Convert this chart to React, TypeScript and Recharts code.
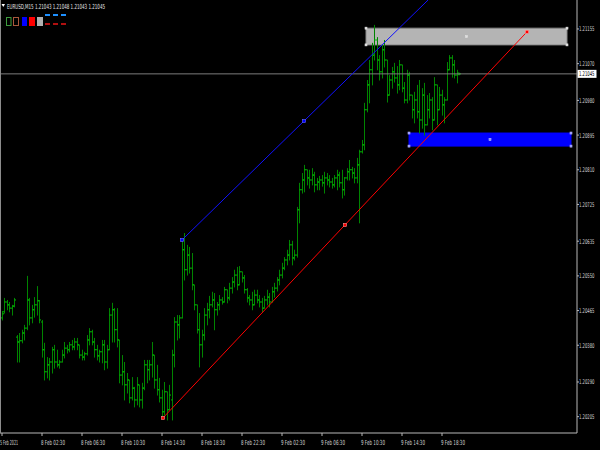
import React from 'react';
import {
  ComposedChart,
  Bar,
  XAxis,
  YAxis,
  ReferenceLine,
  ReferenceArea,
  ReferenceDot,
} from 'recharts';

// EURUSD M15 bars, oldest first
const highs = [
  1.20464, 1.20496, 1.20491, 1.20486, 1.20479, 1.20496, 1.20405, 1.2041, 1.20418, 1.2043,
  1.2055, 1.20496, 1.20479, 1.20498, 1.20525, 1.20491, 1.20442, 1.20386, 1.20351, 1.20349,
  1.20376, 1.20381, 1.20369, 1.20344, 1.20369, 1.20388, 1.20381, 1.20388, 1.20393, 1.20398,
  1.20398, 1.20381, 1.20369, 1.20364, 1.20405, 1.20422, 1.20418, 1.20398, 1.20381, 1.20369,
  1.20393, 1.20393, 1.20381, 1.20471, 1.20484, 1.20471, 1.20471, 1.20393, 1.20356, 1.20339,
  1.20312, 1.20295, 1.20302, 1.20278, 1.20302, 1.20283, 1.20288, 1.20344, 1.20344, 1.20344,
  1.20388, 1.20356, 1.20332, 1.203, 1.20271, 1.2029, 1.20266, 1.20283, 1.20369, 1.20449,
  1.20454, 1.20454, 1.20638, 1.20655, 1.20626, 1.20621, 1.20606, 1.20528, 1.20479, 1.20459,
  1.20418, 1.20471, 1.20484, 1.20501, 1.20511, 1.20508, 1.20486, 1.20503, 1.20498, 1.20523,
  1.20516, 1.20533, 1.20547, 1.20565, 1.20572, 1.20574, 1.2056, 1.20552, 1.2052, 1.20503,
  1.20511, 1.20516, 1.20516, 1.20503, 1.20496, 1.20501, 1.20516, 1.20508, 1.20523, 1.20533,
  1.20547, 1.20565, 1.20582, 1.20596, 1.20614, 1.20638, 1.20636, 1.20614, 1.20719, 1.20778,
  1.20802, 1.20822, 1.2081, 1.2081, 1.20814, 1.20805, 1.2079, 1.20795, 1.20797, 1.20805,
  1.20802, 1.20797, 1.2079, 1.20797, 1.2081, 1.20805, 1.2081, 1.20792, 1.20814, 1.20834,
  1.20817, 1.20814, 1.20839, 1.20859, 1.20883, 1.20974, 1.2103, 1.21079, 1.21121, 1.21165,
  1.21135, 1.21091, 1.21116, 1.21128, 1.21079, 1.21042, 1.21062, 1.21072, 1.21064, 1.21079,
  1.21067, 1.21025, 1.21055, 1.2105, 1.20993, 1.21001, 1.21018, 1.2103, 1.2101, 1.21023,
  1.20993, 1.20998, 1.20988, 1.21037, 1.21018, 1.21013, 1.21006, 1.20988, 1.21074, 1.21091,
  1.21091, 1.21079, 1.21055, 1.21048,
];

const lows = [
  1.20442, 1.20459, 1.20467, 1.20462, 1.20454, 1.20474, 1.20339, 1.20339, 1.20386, 1.20393,
  1.20418, 1.2043, 1.20435, 1.20449, 1.20454, 1.20435, 1.20351, 1.20295, 1.203, 1.20295,
  1.20312, 1.20324, 1.20327, 1.20324, 1.20339, 1.20349, 1.20361, 1.20364, 1.20369, 1.20369,
  1.20369, 1.20349, 1.20344, 1.20344, 1.20356, 1.20381, 1.20381, 1.20351, 1.20344, 1.20339,
  1.20337, 1.2032, 1.20324, 1.20369, 1.20388, 1.20388, 1.20376, 1.20288, 1.20283, 1.20246,
  1.20263, 1.20239, 1.20246, 1.20229, 1.20234, 1.20229, 1.20226, 1.20271, 1.20288, 1.20295,
  1.20302, 1.20275, 1.20258, 1.20241, 1.20202, 1.20209, 1.20197, 1.20222, 1.20197, 1.20327,
  1.20393, 1.20398, 1.20447, 1.2054, 1.20552, 1.20557, 1.20516, 1.20467, 1.2041, 1.20327,
  1.20351, 1.20393, 1.2043, 1.20447, 1.20474, 1.20418, 1.20454, 1.20467, 1.20481, 1.20486,
  1.20484, 1.20491, 1.20508, 1.20523, 1.20516, 1.20528, 1.20535, 1.20508, 1.20486, 1.20479,
  1.20467, 1.20479, 1.20484, 1.20474, 1.20462, 1.20471, 1.20479, 1.20474, 1.20486, 1.20498,
  1.20513, 1.20528, 1.20545, 1.20565, 1.20577, 1.20589, 1.20577, 1.20589, 1.20596, 1.2068,
  1.20753, 1.20756, 1.20773, 1.20765, 1.20773, 1.20756, 1.20761, 1.20761, 1.2077, 1.20753,
  1.20773, 1.20768, 1.20765, 1.20768, 1.20761, 1.20768, 1.20741, 1.20748, 1.20785, 1.20785,
  1.2079, 1.20778, 1.20778, 1.2068, 1.20851, 1.20859, 1.20952, 1.20974, 1.21018, 1.21079,
  1.21055, 1.2103, 1.21035, 1.21062, 1.20976, 1.20993, 1.2101, 1.21025, 1.20998, 1.21006,
  1.21001, 1.20974, 1.20974, 1.20981, 1.20937, 1.20925, 1.20937, 1.209, 1.20912, 1.20895,
  1.2092, 1.20937, 1.20908, 1.20932, 1.2092, 1.20957, 1.20944, 1.20925, 1.20981, 1.21055,
  1.21037, 1.21035, 1.21023, 1.21043,
];

const opens = [
  1.20447, 1.20462, 1.20486, 1.20479, 1.20471, 1.20476, 1.204, 1.20388, 1.20391, 1.2041,
  1.20422, 1.20491, 1.20447, 1.20467, 1.20479, 1.20489, 1.20437, 1.20369, 1.20315, 1.20332,
  1.20339, 1.20369, 1.20339, 1.20332, 1.20339, 1.20356, 1.20373, 1.20369, 1.20381, 1.20376,
  1.20388, 1.20381, 1.20356, 1.20351, 1.20359, 1.20393, 1.20413, 1.20388, 1.20369, 1.20354,
  1.20364, 1.20381, 1.20339, 1.20369, 1.20454, 1.20467, 1.20418, 1.20393, 1.20307, 1.20315,
  1.20283, 1.20295, 1.20251, 1.20275, 1.20246, 1.20283, 1.20246, 1.20275, 1.20332, 1.2032,
  1.20332, 1.20356, 1.20295, 1.20271, 1.20251, 1.20217, 1.20266, 1.20222, 1.20246, 1.20356,
  1.20437, 1.2043, 1.20447, 1.20614, 1.20565, 1.20601, 1.20569, 1.20528, 1.20479, 1.20418,
  1.20381, 1.20405, 1.20454, 1.20467, 1.20479, 1.20491, 1.20467, 1.20479, 1.20491, 1.20486,
  1.20516, 1.20496, 1.2052, 1.20535, 1.20552, 1.20528, 1.2056, 1.20545, 1.20516, 1.20496,
  1.20491, 1.20479, 1.20503, 1.20491, 1.20486, 1.20471, 1.20491, 1.20498, 1.20486, 1.20511,
  1.2052, 1.2054, 1.20552, 1.20569, 1.20589, 1.20601, 1.20626, 1.20594, 1.20601, 1.20712,
  1.20761, 1.20785, 1.2081, 1.2079, 1.20785, 1.20797, 1.20773, 1.2078, 1.20785, 1.20778,
  1.2079, 1.20785, 1.2078, 1.20773, 1.2079, 1.20797, 1.20778, 1.20761, 1.2079, 1.20805,
  1.2081, 1.20802, 1.2079, 1.20822, 1.20854, 1.20871, 1.20957, 1.21018, 1.21055, 1.21091,
  1.21128, 1.21079, 1.2105, 1.21104, 1.21079, 1.20993, 1.2103, 1.2105, 1.21035, 1.21018,
  1.21067, 1.2101, 1.20981, 1.21042, 1.20993, 1.20957, 1.20981, 1.20952, 1.20932, 1.20993,
  1.2092, 1.20957, 1.20981, 1.20932, 1.21018, 1.20957, 1.20993, 1.20969, 1.20981, 1.21055,
  1.21084, 1.21067, 1.21042, 1.21043,
];

const closes = [
  1.20457, 1.20486, 1.20479, 1.20471, 1.20476, 1.20491, 1.20388, 1.20391, 1.2041, 1.20422,
  1.20491, 1.20447, 1.20467, 1.20479, 1.20489, 1.20442, 1.20369, 1.20315, 1.20332, 1.20339,
  1.20369, 1.20339, 1.20332, 1.20339, 1.20356, 1.20373, 1.20369, 1.20381, 1.20376, 1.20388,
  1.20381, 1.20356, 1.20351, 1.20359, 1.20393, 1.20413, 1.20388, 1.20369, 1.20354, 1.20364,
  1.20381, 1.20339, 1.20369, 1.20454, 1.20467, 1.20418, 1.20393, 1.20307, 1.20315, 1.20283,
  1.20295, 1.20251, 1.20275, 1.20246, 1.20283, 1.20246, 1.20275, 1.20332, 1.2032, 1.20332,
  1.20356, 1.20295, 1.20271, 1.20251, 1.20217, 1.20266, 1.20222, 1.20258, 1.20356, 1.20437,
  1.2043, 1.20447, 1.20614, 1.20565, 1.20601, 1.20569, 1.20528, 1.20479, 1.20418, 1.20381,
  1.20405, 1.20454, 1.20467, 1.20479, 1.20491, 1.20467, 1.20479, 1.20491, 1.20486, 1.20516,
  1.20496, 1.2052, 1.20535, 1.20552, 1.20528, 1.2056, 1.20545, 1.20516, 1.20496, 1.20491,
  1.20479, 1.20503, 1.20491, 1.20486, 1.20471, 1.20491, 1.20498, 1.20486, 1.20511, 1.2052,
  1.2054, 1.20552, 1.20569, 1.20589, 1.20601, 1.20626, 1.20594, 1.20601, 1.20712, 1.20761,
  1.20785, 1.2081, 1.2079, 1.20785, 1.20797, 1.20773, 1.2078, 1.20785, 1.20778, 1.2079,
  1.20785, 1.2078, 1.20773, 1.2079, 1.20797, 1.20778, 1.20761, 1.2079, 1.20805, 1.2081,
  1.20802, 1.2079, 1.20822, 1.20854, 1.20871, 1.20957, 1.21018, 1.21055, 1.21091, 1.21128,
  1.21079, 1.2105, 1.21104, 1.21079, 1.20993, 1.2103, 1.2105, 1.21035, 1.21018, 1.21067,
  1.2101, 1.20981, 1.21042, 1.20993, 1.20957, 1.20981, 1.20952, 1.20932, 1.20993, 1.2092,
  1.20957, 1.20981, 1.20932, 1.21018, 1.20957, 1.20993, 1.20969, 1.20981, 1.21055, 1.21084,
  1.21067, 1.21042, 1.21047, 1.21045,
];

const timeTicks = [0, 16, 32, 48, 64, 80, 96, 112, 128, 144, 160, 176];
const timeLabels = [
  '5 Feb 2021', '8 Feb 02:30', '8 Feb 06:30', '8 Feb 10:30', '8 Feb 14:30', '8 Feb 18:30',
  '8 Feb 22:30', '9 Feb 02:30', '9 Feb 06:30', '9 Feb 10:30', '9 Feb 14:30', '9 Feb 18:30',
];
const priceTicks = [
  1.21155, 1.2107, 1.2098, 1.20895, 1.2081, 1.20725, 1.20635, 1.2055, 1.20465, 1.2038, 1.2029, 1.20205,
];
const lastPrice = 1.21045;
const headerText = 'EURUSD,M15  1.21043 1.21048 1.21043 1.21045';

// trend line anchors: [bar index, price]
const blueTrend = [[72, 1.20638], [169.6, 1.21221]];
const redTrend = [[64.4, 1.20202], [210, 1.21148]];

// zones: [bar from, bar to, price low, price high]
const greyZone = [145.6, 226, 1.21116, 1.21157];
const blueZone = [162.8, 227.6, 1.20868, 1.209];

const X_DOMAIN: [number, number] = [-0.8, 230];
const Y_DOMAIN: [number, number] = [1.20165, 1.21226];

const FONT = 'DejaVu Sans';
const NARROW = "'Liberation Sans Narrow', 'DejaVu Sans Condensed', 'Liberation Sans', sans-serif";
const AXIS_GREY = '#b8b8b8';
const LABEL_X = 579; // price scale text column

const bars = highs.map((h, i) => ({
  i,
  high: h,
  low: lows[i],
  open: opens[i],
  close: closes[i],
  range: [lows[i], h],
}));

// blue line is a ray: carry it on to the top of the price scale
const blueSlope = (blueTrend[1][1] - blueTrend[0][1]) / (blueTrend[1][0] - blueTrend[0][0]);
const blueTopX = blueTrend[0][0] + (Y_DOMAIN[1] - blueTrend[0][1]) / blueSlope;

const midOf = (a: number[][]) => [(a[0][0] + a[1][0]) / 2, (a[0][1] + a[1][1]) / 2];

// OHLC bar: high-low stick, open tick to the left, close tick to the right
const OhlcBar = (props: any) => {
  const { x, y, width, height, payload } = props;
  if (x == null || y == null) return null;
  const cx = Math.round(x + width / 2) + 0.5;
  const top = Math.min(y, y + height);
  const bot = Math.max(y, y + height);
  const span = payload.high - payload.low || 1;
  const toY = (v: number) => top + ((payload.high - v) / span) * (bot - top);
  const oy = toY(payload.open);
  const cy = toY(payload.close);
  return (
    <g>
      <line x1={cx} x2={cx} y1={top} y2={bot + 0.5} stroke="#008400" strokeWidth={1} />
      <line x1={cx - 1.5} x2={cx} y1={oy} y2={oy} stroke="#00b000" strokeWidth={1} />
      <line x1={cx} x2={cx + 1.5} y1={cy} y2={cy} stroke="#00c800" strokeWidth={1} />
    </g>
  );
};

const PriceTick = ({ y, payload }: any) => (
  <text
    x={LABEL_X}
    y={y + 2.5}
    fontSize={6.5}
    fontFamily={NARROW}
    fill="#d4d4d4"
    textLength={15.5}
    lengthAdjust="spacingAndGlyphs"
  >
    {payload.value.toFixed(5)}
  </text>
);

const TimeTick = ({ x, y, payload }: any) => {
  const k = timeTicks.indexOf(payload.value);
  if (k < 0) return null;
  return (
    <text
      x={k === 0 ? 0 : x - 1}
      y={y + 7}
      fontSize={7}
      fontFamily={FONT}
      fill="#d4d4d4"
      textLength={k === 0 ? 18 : 24}
      lengthAdjust="spacingAndGlyphs"
    >
      {timeLabels[k]}
    </text>
  );
};

const PriceTag = ({ viewBox }: any) => {
  if (!viewBox) return null;
  const y = viewBox.y;
  return (
    <g>
      <rect x={LABEL_X - 1.5} y={y - 4} width={19} height={8} fill="#ffffff" />
      <text
        x={LABEL_X}
        y={y + 2.5}
        fontSize={6.5}
        fontFamily={NARROW}
        fill="#000000"
        textLength={15.5}
        lengthAdjust="spacingAndGlyphs"
      >
        {lastPrice.toFixed(5)}
      </text>
    </g>
  );
};

const square = (fill: string, edge: string, size = 3) => (p: any) => (
  <rect
    x={p.cx - size / 2}
    y={p.cy - size / 2}
    width={size}
    height={size}
    fill={fill}
    stroke={edge}
    strokeWidth={0.6}
  />
);

const zoneCorners = (z: number[]) => [
  [z[0], z[3]], [z[1], z[3]], [z[0], z[2]], [z[1], z[2]],
];

export default function App() {
  const blueMid = midOf(blueTrend);
  const redMid = midOf(redTrend);
  const greyMid = [(greyZone[0] + greyZone[1]) / 2, (greyZone[2] + greyZone[3]) / 2];
  const blueZoneMid = [(blueZone[0] + blueZone[1]) / 2, (blueZone[2] + blueZone[3]) / 2];

  return (
    <div
      style={{
        position: 'absolute',
        left: 0,
        top: 0,
        width: 600,
        height: 450,
        background: '#000000',
        overflow: 'hidden',
      }}
    >
      <ComposedChart
        width={600}
        height={450}
        data={bars}
        margin={{ top: 0, right: 0, bottom: 0, left: 0 }}
      >
        <XAxis
          dataKey="i"
          type="number"
          domain={X_DOMAIN}
          allowDataOverflow
          ticks={timeTicks}
          interval={0}
          height={17}
          tickSize={3}
          axisLine={{ stroke: AXIS_GREY }}
          tickLine={{ stroke: AXIS_GREY }}
          tick={<TimeTick />}
        />
        <YAxis
          orientation="right"
          type="number"
          domain={Y_DOMAIN}
          allowDataOverflow
          ticks={priceTicks}
          interval={0}
          width={23}
          tickSize={2}
          tickMargin={0}
          axisLine={{ stroke: AXIS_GREY }}
          tickLine={{ stroke: AXIS_GREY }}
          tick={<PriceTick />}
        />

        <ReferenceArea
          x1={greyZone[0]}
          x2={greyZone[1]}
          y1={greyZone[2]}
          y2={greyZone[3]}
          fill="#b4b4b4"
          fillOpacity={1}
          stroke="#8a8a8a"
          strokeWidth={1}
        />
        <ReferenceArea
          x1={blueZone[0]}
          x2={blueZone[1]}
          y1={blueZone[2]}
          y2={blueZone[3]}
          fill="#0000ff"
          fillOpacity={1}
          stroke="#0000ff"
        />

        <ReferenceLine y={lastPrice} stroke="#7c7c7c" strokeWidth={1} label={<PriceTag />} />

        <Bar
          dataKey="range"
          barSize={2}
          shape={<OhlcBar />}
          isAnimationActive={false}
        />

        <ReferenceLine
          segment={[
            { x: blueTrend[0][0], y: blueTrend[0][1] },
            { x: blueTopX, y: Y_DOMAIN[1] },
          ]}
          stroke="#1010ff"
          strokeWidth={1}
          ifOverflow="visible"
        />
        <ReferenceLine
          segment={[
            { x: redTrend[0][0], y: redTrend[0][1] },
            { x: redTrend[1][0], y: redTrend[1][1] },
          ]}
          stroke="#ff0000"
          strokeWidth={1}
          ifOverflow="visible"
        />

        {[blueTrend[0], blueMid].map((p, k) => (
          <ReferenceDot key={`bt-${k}`} x={p[0]} y={p[1]} r={2} shape={square('#0000ff', '#6a6aff')} />
        ))}
        {redTrend.concat([redMid]).map((p, k) => (
          <ReferenceDot key={`rt-${k}`} x={p[0]} y={p[1]} r={2} shape={square('#ff0000', '#ff9090')} />
        ))}
        {zoneCorners(greyZone).concat([greyMid]).map((p, k) => (
          <ReferenceDot key={`gz-${k}`} x={p[0]} y={p[1]} r={1} shape={square('#e0e0e0', '#e0e0e0', 2)} />
        ))}
        {zoneCorners(blueZone).concat([blueZoneMid]).map((p, k) => (
          <ReferenceDot key={`bz-${k}`} x={p[0]} y={p[1]} r={1} shape={square('#8080ff', '#c0c0ff', 2)} />
        ))}
      </ComposedChart>

      {/* left border of the chart window */}
      <div style={{ position: 'absolute', left: 0, top: 0, width: 1, height: 433, background: '#8c8c8c' }} />

      {/* symbol header and object palette */}
      <svg style={{ position: 'absolute', left: 0, top: 0 }} width={120} height={30}>
        <path d="M1.5 4 L5 4 L3.25 7 Z" fill="#ffffff" />
        <text
          x={7}
          y={8.5}
          fontSize={7}
          fontFamily={FONT}
          fill="#e8e8e8"
          textLength={98}
          lengthAdjust="spacingAndGlyphs"
        >
          {headerText}
        </text>
        <rect x={6.5} y={17.5} width={4.5} height={8} fill="none" stroke="#3c9a3c" />
        <rect x={13.5} y={17.5} width={5} height={8} fill="none" stroke="#a8583c" />
        <rect x={22} y={17} width={5} height={9} fill="#0000ff" />
        <rect x={29} y={17} width={6} height={9} fill="#ff0000" />
        <rect x={37} y={17} width={6} height={9} fill="#b0b0b0" />
        {[45, 53, 61].map((dx) => (
          <rect key={`bd-${dx}`} x={dx} y={14} width={5} height={2} fill="#1e90ff" />
        ))}
        {[45, 53, 61].map((dx) => (
          <rect key={`rd-${dx}`} x={dx} y={23} width={5} height={2} fill="#b01010" />
        ))}
      </svg>
    </div>
  );
}
